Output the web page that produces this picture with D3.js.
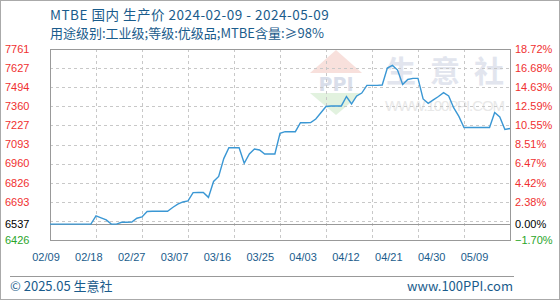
<!DOCTYPE html>
<html>
<head>
<meta charset="utf-8">
<script src="https://cdn.jsdelivr.net/npm/d3@7"></script>
<style>
  body { margin: 0; background: #fff; }
  svg { display: block; }
</style>
</head>
<body>
<svg id="chart" width="560" height="300"></svg>
<script>
// MTBE domestic producer price, daily
const startDate = "2024-02-09";
const endDate = "2024-05-09";
const prices = [
  6537, 6537, 6537, 6537, 6537, 6537, 6537, 6537, 6537, 6594,
  6580, 6566, 6537, 6537, 6550, 6550, 6552, 6578, 6587, 6625,
  6627, 6627, 6627, 6627, 6653, 6676, 6692, 6699, 6757, 6758,
  6758, 6724, 6835, 6870, 6995, 7071, 7071, 7071, 6962, 7027,
  7062, 7055, 7027, 7027, 7027, 7172, 7183, 7183, 7183, 7246,
  7246, 7247, 7272, 7315, 7359, 7363, 7363, 7363, 7429, 7377,
  7433, 7453, 7507, 7507, 7507, 7509, 7628, 7646, 7614, 7513,
  7548, 7556, 7556, 7412, 7381, 7405, 7429, 7456, 7433, 7349,
  7290, 7212, 7212, 7212, 7212, 7212, 7212, 7317, 7286, 7198,
  7205
];
const basePrice = 6537;
const yMin = 6426, yMax = 7761;
const leftLabels = ["7761", "7627", "7494", "7360", "7227", "7093", "6960", "6826", "6693"];
const rightLabels = ["18.72%", "16.68%", "14.63%", "12.59%", "10.55%", "8.51%", "6.47%", "4.42%", "2.38%"];
const xLabels = ["02/09", "02/18", "02/27", "03/07", "03/16", "03/25", "04/03", "04/12", "04/21", "04/30", "05/09"];

const svg = d3.select("#chart");
const W = 560, H = 300;
const plot = {left: 50, right: 510, top: 49, bottom: 240};
const blue = "#1a5c8c";
const cjk = "'Noto Sans CJK SC', 'Noto Sans', sans-serif";
const num = "'Liberation Sans', Arial, sans-serif";

const parse = d3.timeParse("%Y-%m-%d");
const dates = d3.timeDay.range(parse(startDate), d3.timeDay.offset(parse(endDate), 1));
const data = dates.map((d, i) => ({date: d, value: prices[i]}));

const x = d3.scaleTime().domain([parse(startDate), parse(endDate)]).range([plot.left, plot.right]);
const y = d3.scaleLinear().domain([yMin, yMax]).range([plot.bottom, plot.top]);

// outer frame
svg.append("rect").attr("x", 0.5).attr("y", 0.5).attr("width", W - 1).attr("height", H - 1)
  .attr("fill", "#fff").attr("stroke", "#aaa");

// watermark
const wm = svg.append("g");
wm.append("path").attr("d", "M310,73 L336,50 L362,73 Z").attr("fill", "#f8e0dc");
wm.append("text").attr("x", 336).attr("y", 91).attr("text-anchor", "middle")
  .attr("font-family", "'DejaVu Sans', sans-serif").attr("font-weight", "bold").attr("font-size", 19)
  .attr("fill", "#d9deea").text("PPI");
wm.append("path").attr("d", "M310,93 L362,93 L336,115 Z").attr("fill", "#e2f2df");
wm.append("text").attr("x", 386).attr("y", 82).attr("font-family", cjk).attr("font-weight", "bold")
  .attr("font-size", 30).attr("letter-spacing", 14).attr("fill", "#e2e5ee").text("生意社");
wm.append("text").attr("x", 385).attr("y", 111).attr("textLength", 120).attr("font-family", num)
  .attr("font-size", 15).attr("fill", "#e8e8e8").text("WWW.100PPI.COM");

// gridlines
const step = (yMax - yMin) / 10;
svg.append("g").selectAll("line").data(d3.range(1, 10).map(k => yMin + k * step)).join("line")
  .attr("x1", plot.left).attr("x2", plot.right)
  .attr("y1", d => Math.round(y(d)) + 0.5).attr("y2", d => Math.round(y(d)) + 0.5)
  .attr("stroke", "#c8c8c8").attr("stroke-dasharray", "3,3");
const gridDates = xLabels.slice(1, -1).map((l, i) => d3.timeDay.offset(parse(startDate), (i + 1) * 9));
svg.append("g").selectAll("line").data(gridDates).join("line")
  .attr("y1", plot.top).attr("y2", plot.bottom)
  .attr("x1", d => Math.round(x(d)) + 0.5).attr("x2", d => Math.round(x(d)) + 0.5)
  .attr("stroke", "#c8c8c8").attr("stroke-dasharray", "3,3");

// base line
svg.append("line").attr("x1", plot.left).attr("x2", plot.right)
  .attr("y1", Math.round(y(basePrice)) + 0.5).attr("y2", Math.round(y(basePrice)) + 0.5)
  .attr("stroke", "#999");

// plot border
svg.append("rect").attr("x", plot.left + 0.5).attr("y", plot.top + 0.5)
  .attr("width", plot.right - plot.left).attr("height", plot.bottom - plot.top)
  .attr("fill", "none").attr("stroke", "#999");

// price line
svg.append("path").datum(data)
  .attr("d", d3.line().x(d => x(d.date)).y(d => y(d.value)))
  .attr("fill", "none").attr("stroke", "#3a97d4").attr("stroke-width", 1.4);

// y labels
const tickVals = leftLabels.map(Number);
const yl = svg.append("g").attr("font-family", num).attr("font-size", 11);
yl.selectAll(".l").data(leftLabels).join("text")
  .attr("x", 5).attr("y", d => y(+d)).attr("dy", "0.35em").attr("fill", "#f03030").text(d => d);
yl.selectAll(".r").data(rightLabels).join("text")
  .attr("x", 515).attr("y", (d, i) => y(tickVals[i])).attr("dy", "0.35em").attr("fill", "#f03030").text(d => d);
yl.append("text").attr("x", 5).attr("y", y(basePrice)).attr("dy", "0.35em").attr("fill", "#000").text(basePrice);
yl.append("text").attr("x", 515).attr("y", y(basePrice)).attr("dy", "0.35em").attr("fill", "#000").text("0.00%");
yl.append("text").attr("x", 5).attr("y", y(yMin)).attr("dy", "0.35em").attr("fill", "#2aa52a").text(yMin);
yl.append("text").attr("x", 515).attr("y", y(yMin)).attr("dy", "0.35em").attr("fill", "#2aa52a")
  .text(d3.format(".2f")((yMin - basePrice) / basePrice * 100) + "%");

// x labels
const xl = d3.scalePoint().domain(xLabels).range([46, 474.5]);
svg.append("g").selectAll("text").data(xLabels).join("text")
  .attr("x", d => xl(d)).attr("y", 261).attr("text-anchor", "middle")
  .attr("font-family", num).attr("font-size", 11).attr("fill", blue).text(d => d);

// titles
svg.append("text").attr("x", 50).attr("y", 20).attr("font-family", cjk).attr("font-size", 13.5)
  .attr("letter-spacing", 0.5).attr("fill", blue).text("MTBE 国内 生产价 2024-02-09 - 2024-05-09");
svg.append("text").attr("x", 50).attr("y", 38).attr("font-family", cjk).attr("font-size", 13)
  .attr("fill", blue).text("用途级别:工业级;等级:优级品;MTBE含量:≥98%");

// footer
svg.append("line").attr("x1", 10).attr("x2", 514).attr("y1", 276.5).attr("y2", 276.5).attr("stroke", "#999");
svg.append("text").attr("x", 10).attr("y", 291).attr("font-family", cjk).attr("font-size", 13)
  .attr("fill", blue).text("© 2025.05 生意社");
svg.append("text").attr("x", 513).attr("y", 291).attr("text-anchor", "end").attr("font-family", cjk)
  .attr("font-size", 13).attr("fill", blue).text("www.100PPI.com");
</script>
</body>
</html>
